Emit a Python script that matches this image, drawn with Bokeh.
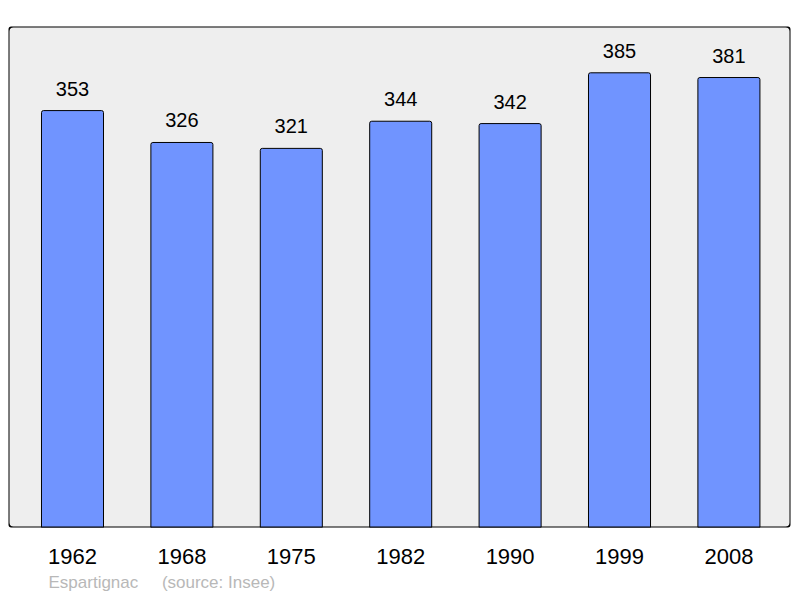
from bokeh.plotting import figure
from bokeh.models import Range1d, FixedTicker, BoxAnnotation, Title
from bokeh.core.properties import value
from bokeh.embed import file_html
from bokeh.resources import INLINE

years = ["1962", "1968", "1975", "1982", "1990", "1999", "2008"]
population = [353, 326, 321, 344, 342, 385, 381]
commune = "Espartignac"
source = "(source: Insee)"

xs = list(range(len(years)))

p = figure(width=792, height=597, output_backend="svg", toolbar_location=None,
           x_range=Range1d(-0.585, 6.563), y_range=Range1d(0, 424.2),
           min_border_left=8, min_border_right=2, min_border_top=26, min_border_bottom=70)
p.outline_line_color = None
p.background_fill_color = None
p.border_fill_color = "white"
p.xgrid.visible = False
p.ygrid.visible = False
p.yaxis.visible = False

bg = BoxAnnotation(fill_color="#eeeeee", fill_alpha=1, line_color=None, level="underlay",
                   border_radius=5)
p.add_layout(bg)

p.vbar(x=xs, top=population, width=0.567, bottom=0, fill_color="#7094ff",
       line_color="black", line_width=1, border_radius=[2, 2, 0, 0])

frame = BoxAnnotation(fill_alpha=0, line_color="black", line_alpha=1, line_width=2,
                      line_dash="solid", border_radius=5)
p.add_layout(frame)

p.text(x=xs, y=population, text=[str(v) for v in population], text_align="center",
       text_baseline="alphabetic", y_offset=-22, text_font=value("Liberation Sans"),
       text_font_size="20px", text_color="black")

ax = p.xaxis[0]
ax.ticker = FixedTicker(ticks=xs)
ax.major_label_overrides = {i: y for i, y in enumerate(years)}
ax.axis_line_color = None
ax.major_tick_line_color = None
ax.minor_tick_line_color = None
ax.major_label_text_font = "Liberation Sans"
ax.major_label_text_font_size = "22px"
ax.major_label_text_color = "black"
ax.major_label_standoff = 15

footer = Title(text=commune + "\u00a0\u00a0\u00a0\u00a0\u00a0" + source, align="left",
               offset=40, standoff=9, text_font="Liberation Sans", text_font_size="17px",
               text_font_style="normal", text_color="#b8b8b8")
p.add_layout(footer, "below")

open("out.html", "w").write(file_html(p, INLINE))
